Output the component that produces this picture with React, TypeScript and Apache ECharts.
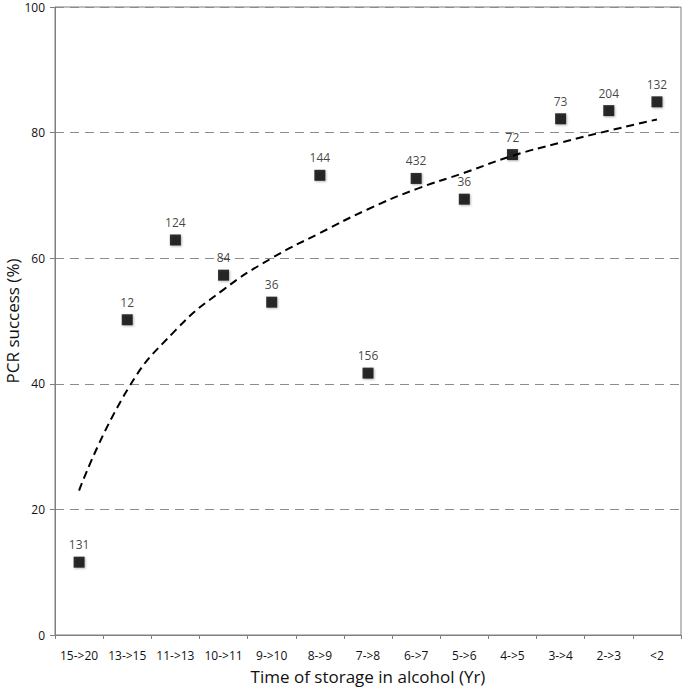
import React, { useEffect, useRef } from "react";
import * as echarts from "echarts";

const categories = ["15->20", "13->15", "11->13", "10->11", "9->10", "8->9", "7->8", "6->7", "5->6", "4->5", "3->4", "2->3", "<2"];
const successValues = [11.6, 50.2, 62.9, 57.3, 53.0, 73.2, 41.7, 72.7, 69.4, 76.5, 82.2, 83.5, 84.9];
const sampleSizes = ["131", "12", "124", "84", "36", "144", "156", "432", "36", "72", "73", "204", "132"];
const trendValues = [23.0, 39.0, 48.5, 55.0, 60.0, 64.0, 67.8, 71.0, 73.6, 76.3, 78.4, 80.3, 82.1];
const yTicks = [0, 20, 40, 60, 80, 100];

const FONT = "'Open Sans', 'Liberation Sans', sans-serif";
const AXIS_COLOR = "#7f7f7f";
const W = 685;
const H = 687;
const GRID = { left: 55, right: 4, top: 7, bottom: 52 };

export default function App() {
  const ref = useRef<HTMLDivElement>(null);
  useEffect(() => {
    if (!ref.current) return;
    const chart = echarts.init(ref.current, null, { renderer: "svg" });
    chart.setOption({
      animation: false,
      backgroundColor: "#ffffff",
      grid: {
        ...GRID,
        outerBoundsMode: "none",
        containLabel: false,
        show: true,
        borderColor: AXIS_COLOR,
        borderWidth: 1,
        backgroundColor: "rgba(0,0,0,0)",
      },
      xAxis: {
        type: "category",
        data: categories,
        boundaryGap: true,
        name: "Time of storage in alcohol (Yr)",
        nameLocation: "middle",
        nameGap: 32,
        nameMoveOverlap: false,
        nameTextStyle: { fontFamily: FONT, fontSize: 17, lineHeight: 18, color: "#111" },
        axisLine: { show: true, lineStyle: { color: AXIS_COLOR, width: 1 } },
        axisTick: { show: true, alignWithLabel: false, length: 4, lineStyle: { color: AXIS_COLOR } },
        axisLabel: { fontFamily: FONT, fontSize: 12, color: "#111", margin: 14, interval: 0 },
        splitLine: { show: false },
      },
      yAxis: {
        type: "value",
        min: yTicks[0],
        max: yTicks[yTicks.length - 1],
        interval: 20,
        name: "PCR success (%)",
        nameLocation: "middle",
        nameGap: 34,
        nameMoveOverlap: false,
        nameRotate: 90,
        nameTextStyle: { fontFamily: FONT, fontSize: 17, color: "#111" },
        axisLine: { show: true, lineStyle: { color: AXIS_COLOR, width: 1 } },
        axisTick: { show: true, inside: false, length: 5, lineStyle: { color: AXIS_COLOR } },
        axisLabel: { fontFamily: FONT, fontSize: 12, lineHeight: 12, color: "#111", margin: 10 },
        splitLine: { show: true, lineStyle: { color: "#8c8c8c", type: [9, 6], width: 1 } },
      },
      series: [
        {
          type: "line",
          data: trendValues,
          smooth: 0.5,
          showSymbol: false,
          symbol: "none",
          lineStyle: { color: "#000", width: 2, type: [8, 5] },
          z: 2,
          silent: true,
        },
        {
          type: "scatter",
          data: successValues.map((v, i) => ({
            value: v,
            label: { formatter: sampleSizes[i] },
          })),
          symbol: "rect",
          symbolSize: 11,
          itemStyle: {
            color: "#000",
            shadowBlur: 2,
            shadowColor: "rgba(0,0,0,0.35)",
            shadowOffsetX: 1,
            shadowOffsetY: 1,
          },
          label: {
            show: true,
            position: "top",
            distance: 6,
            fontFamily: FONT,
            fontSize: 12,
            color: "#111",
          },
          z: 3,
        },
      ],
    });
    return () => chart.dispose();
  }, []);
  return (
    <div
      ref={ref}
      style={{ position: "absolute", left: 0, top: 0, width: W, height: H }}
    />
  );
}
